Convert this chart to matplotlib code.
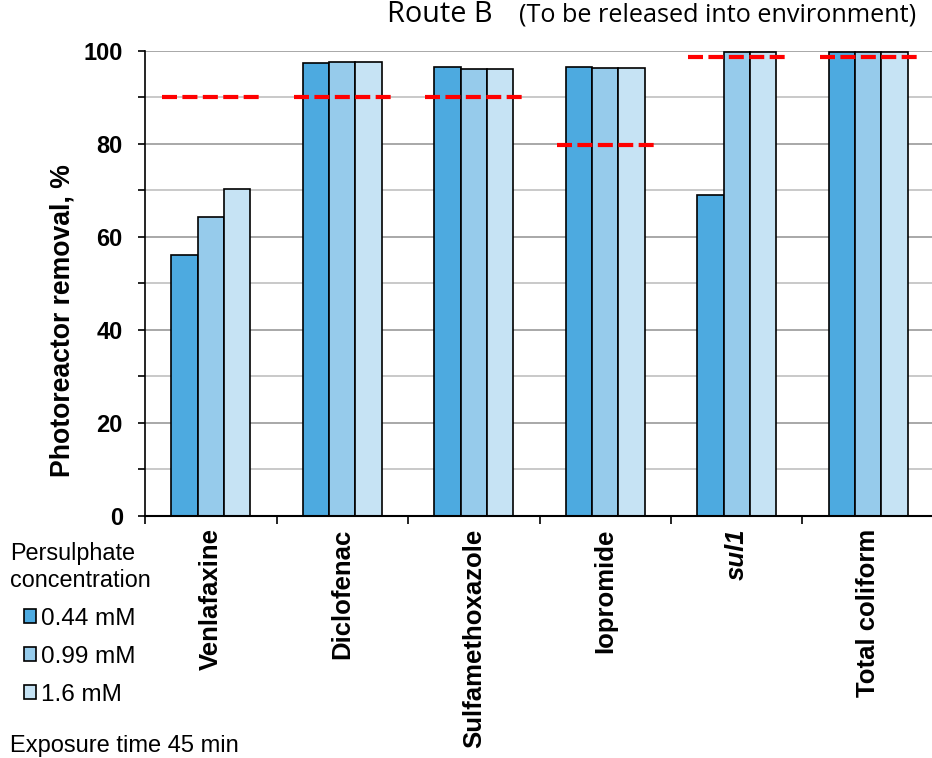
import numpy as np
import matplotlib
matplotlib.use("Agg")
import matplotlib.pyplot as plt
from matplotlib.ticker import MultipleLocator, FixedLocator

# 数据
categories = ["Venlafaxine", "Diclofenac", "Sulfamethoxazole", "Iopromide", "sul1", "Total coliform"]
series_labels = ["0.44 mM", "0.99 mM", "1.6 mM"]
removal_044 = [56.0, 97.4, 96.4, 96.4, 69.0, 99.6]
removal_099 = [64.3, 97.5, 96.1, 96.3, 99.6, 99.6]
removal_16 = [70.3, 97.5, 96.1, 96.3, 99.6, 99.6]
targets = [90, 90, 90, 79.8, 98.6, 98.6]

colors = ["#4DAAE0", "#96CBEB", "#C6E3F4"]

plt.rcParams['font.family'] = ['Liberation Sans', 'DejaVu Sans']

W, H = 932, 758
fig = plt.figure(figsize=(W / 100, H / 100), dpi=100)
ax = fig.add_axes([145 / W, 1 - 516 / H, 789 / W, 465.5 / H])

x = np.arange(len(categories))
bw = 0.2
for k, vals in enumerate([removal_044, removal_099, removal_16]):
    ax.bar(x + (k - 1) * bw, vals, width=bw, color=colors[k], edgecolor="black",
           linewidth=1.2, label=series_labels[k], zorder=2)

# 红色虚线 (目标值)
for i, t in enumerate(targets):
    ax.plot([i - 0.37, i + 0.37], [t, t], color="#FF0000", lw=3,
            dashes=(3.6, 1.3), solid_capstyle="butt", dash_capstyle="butt", zorder=4)

ax.set_xlim(-0.5, len(categories) - 0.5)
ax.set_ylim(0, 100)
ax.yaxis.set_major_locator(MultipleLocator(20))
ax.yaxis.set_minor_locator(MultipleLocator(10))
ax.grid(True, axis="y", which="major", color="#9a9a9a", lw=1.2)
ax.grid(True, axis="y", which="minor", color="#c0c0c0", lw=1.2)
ax.set_axisbelow(True)

ax.spines["top"].set_visible(False)
ax.spines["right"].set_visible(False)
ax.spines["left"].set_linewidth(1.2)
ax.spines["bottom"].set_linewidth(1.5)

ax.tick_params(axis="y", which="both", length=5, width=1.2, direction="out", pad=11)
for lab in ax.get_yticklabels():
    lab.set_fontweight("bold")
    lab.set_fontsize(17)

# x 轴: 标签在组中心, 刻度在组边界
ax.set_xticks(x)
ax.set_xticklabels(categories, rotation=90, fontsize=18.5, fontweight="bold", va="top", ha="center")
ax.get_xticklabels()[4].set_fontstyle("italic")
ax.xaxis.set_minor_locator(FixedLocator(np.arange(-0.5, len(categories) + 0.5, 1)))
ax.tick_params(axis="x", which="major", length=0, pad=9)
ax.tick_params(axis="x", which="minor", length=6, width=1.2, direction="out")

fig.text(63 / W, 1 - 321 / H, "Photoreactor removal, %", rotation=90, fontsize=19.2,
         fontweight="bold", ha="center", va="center")

# 标题
fig.text(387 / W, 1 - 22 / H, "Route B", fontsize=20.8, family=["Open Sans", "DejaVu Sans"],
         ha="left", va="baseline")
fig.text(519 / W, 1 - 22 / H, "(To be released into environment)", fontsize=18.2,
         family=["Open Sans", "DejaVu Sans"], ha="left", va="baseline")

# 图例
fig.text(10 / W, 1 - 560 / H, "Persulphate", fontsize=16.8, ha="left", va="baseline")
fig.text(10 / W, 1 - 587 / H, "concentration", fontsize=16.8, ha="left", va="baseline")
handles, labels = ax.get_legend_handles_labels()
fig.legend(handles, labels, loc="upper left", bbox_to_anchor=(24 / W, 1 - 608 / H),
           frameon=False, fontsize=17.5, handlelength=0.5, handleheight=0.5,
           handletextpad=0.2, labelspacing=0.65, borderpad=0, borderaxespad=0)
fig.text(10 / W, 1 - 752 / H, "Exposure time 45 min", fontsize=17, ha="left", va="baseline")

fig.savefig("out.png", dpi=100)
